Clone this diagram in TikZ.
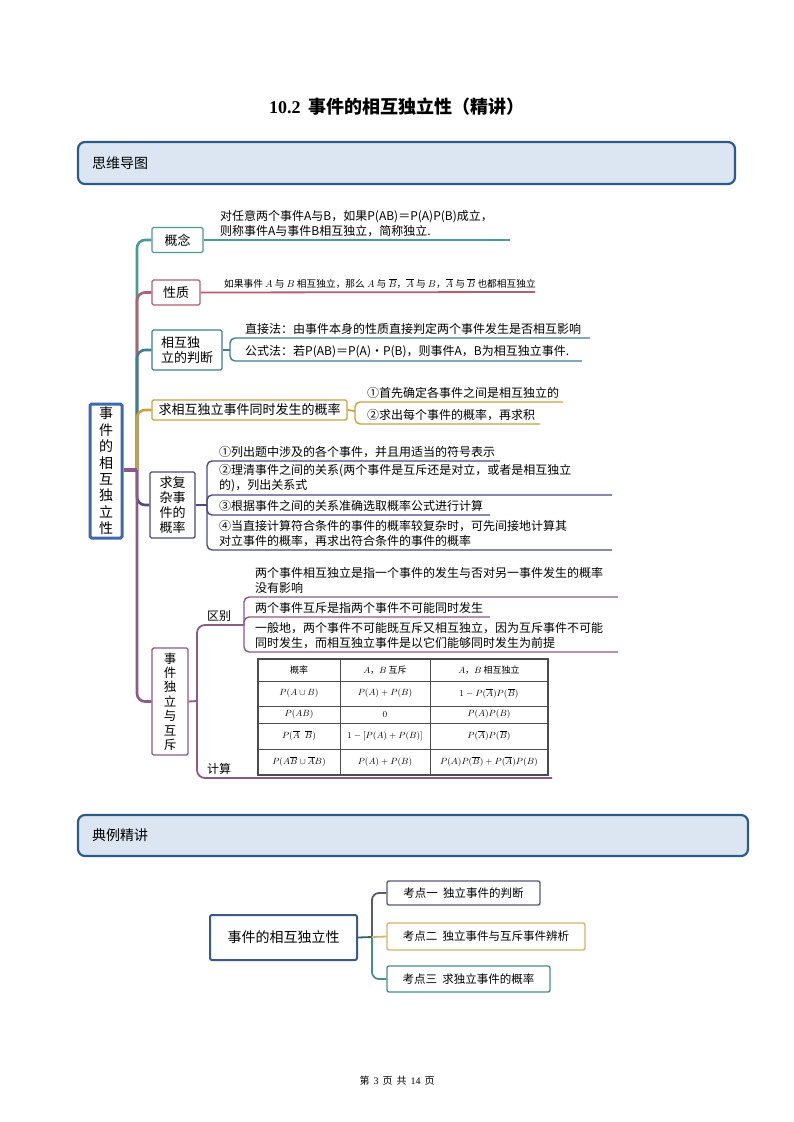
\documentclass[tikz,border=0pt]{standalone}
\usepackage{fontspec}
\setmainfont{Noto Sans CJK SC}
\newfontfamily\tnr{Liberation Serif}
\usetikzlibrary{calc}
\pgfdeclarelayer{bglayer}
\pgfsetlayers{bglayer,main}
\definecolor{cTeal}{HTML}{4A9A96}
\definecolor{cRed}{HTML}{B0606E}
\definecolor{cBT}{HTML}{3D7D95}
\definecolor{cGold}{HTML}{C9A23C}
\definecolor{cNavy}{HTML}{4B4C7E}
\definecolor{cPur}{HTML}{8B5A85}
\definecolor{cRoot}{HTML}{3F68B0}
\definecolor{barFill}{HTML}{DCE6F2}
\definecolor{barLine}{HTML}{2E5A88}
\definecolor{cDark}{HTML}{5A5A78}
\definecolor{cGold2}{HTML}{D4B466}
\definecolor{cTeal2}{HTML}{4A8C88}
\definecolor{cRoot2}{HTML}{3B5A8A}
\begin{document}
\begin{tikzpicture}[x=1pt,y=-1pt,
  bar/.style={draw=barLine,fill=barFill,line width=2.2,rounded corners=7,inner sep=0},
  bartxt/.style={anchor=west,inner sep=0,font=\fontsize{14}{16}\selectfont},
  box/.style={draw=#1,fill=white,line width=1.4,rounded corners=1.5,inner sep=0,font=\fontsize{13}{15.5}\selectfont,align=center},
  txt/.style={anchor=south west,inner sep=0,font=\fontsize{12}{15}\selectfont,align=left},
  br/.style={draw=#1,line width=2.6,rounded corners=8},
  ul/.style={draw=#1,line width=1.4,rounded corners=5},
  tc/.style={inner sep=0,font=\fontsize{9}{11}\selectfont},
  kbox/.style={draw=#1,fill=white,line width=1.4,rounded corners=2,inner sep=0,font=\fontsize{11.5}{14}\selectfont},
]
\begin{pgfonlayer}{bglayer}
\fill[white] (0,0) rectangle (794,1122);
\end{pgfonlayer}
\useasboundingbox (0,0) rectangle (794,1122);

% title
\node[inner sep=0,font=\fontsize{18}{20}\selectfont\bfseries] (title) at (397,107) {{\tnr 10.2}\ \ 事件的相互独立性（精讲）};

% header bars
\node[bar,minimum width=657,minimum height=42] (bar1) at (406.5,163) {};
\node[bartxt] (bar1t) at (92,163) {思维导图};
\node[bar,minimum width=670,minimum height=41] (bar2) at (413,835.5) {};
\node[bartxt] (bar2t) at (92,835.5) {典例精讲};

% root
\node[box=cRoot,line width=3,minimum width=32,minimum height=134,font=\fontsize{14}{16.4}\selectfont] (root) at (106,471) {事\\件\\的\\相\\互\\独\\立\\性};
\coordinate (J) at (137,470);

% first-level boxes
\node[box=cTeal,minimum width=51,minimum height=25] (gn) at (177.5,240) {概念};
\node[box=cRed,minimum width=48,minimum height=25] (xz) at (176,292.5) {性质};
\node[box=cBT,minimum width=70,minimum height=40,align=left] (pd) at (187,350) {相互独\\立的判断};
\node[box=cGold,minimum width=195,minimum height=20] (qx) at (249.5,410) {求相互独立事件同时发生的概率};
\node[box=cNavy,minimum width=45,minimum height=66,font=\fontsize{13}{15}\selectfont] (fz) at (172.5,505) {求复\\杂事\\件的\\概率};
\node[box=cPur,minimum width=36,minimum height=107,font=\fontsize{12.5}{14.4}\selectfont] (dl) at (170,701.5) {事\\件\\独\\立\\与\\互\\斥};

% trunk branches behind the boxes
\begin{pgfonlayer}{bglayer}
\draw[br=cTeal] (J) |- (gn.west);
\draw[br=cRed] (J) |- (xz.west);
\draw[br=cBT] (J) |- (pd.west);
\draw[br=cGold] (J) |- (qx.west);
\draw[br=cNavy] (J) |- (fz.west);
\draw[br=cPur] (J) |- (dl.west);
\draw[cPur,line width=4.5] (root.east |- J) -- (J);
\end{pgfonlayer}

% 概念
\coordinate (gnE) at (510,240);
\draw[ul=cTeal,line width=1.8] (gn.east) -- (gnE);
\node[txt] (gnt) at (220,237) {对任意两个事件A与B，如果P(AB)＝P(A)P(B)成立，\\则称事件A与事件B相互独立，简称独立.};

% 性质
\coordinate (xzE) at (535,292);
\draw[ul=cRed,line width=1.8] (xz.east) -- (xzE);
\node[txt,font=\fontsize{9.7}{11}\selectfont] (xzt) at (224,289) {如果事件 $A$ 与 $B$ 相互独立，那么 $A$ 与 $\overline{B}$，$\overline{A}$ 与 $B$，$\overline{A}$ 与 $\overline{B}$ 也都相互独立};

% 判断
\coordinate (pdB) at (230,350);
\coordinate (pd1) at (590,338);
\coordinate (pd2) at (582,361);
\draw[ul=cBT,line width=1.8] (pd.east) -- (pdB);
\draw[ul=cBT] (pdB) |- (pd1);
\draw[ul=cBT] (pdB) |- (pd2);
\node[txt] (pd1t) at (245,335) {直接法：由事件本身的性质直接判定两个事件发生是否相互影响};
\node[txt] (pd2t) at (245,358) {公式法：若P(AB)＝P(A)·P(B)，则事件A，B为相互独立事件.};

% 求相互独立
\coordinate (qxB) at (355,411);
\coordinate (qx1) at (563,402);
\coordinate (qx2) at (540,424);
\draw[ul=cGold,line width=1.8] (qx.east) -- (qxB);
\draw[ul=cGold] (qxB) |- (qx1);
\draw[ul=cGold] (qxB) |- (qx2);
\node[txt] (qx1t) at (367,399) {①首先确定各事件之间是相互独立的};
\node[txt] (qx2t) at (367,421) {②求出每个事件的概率，再求积};

% 复杂
\coordinate (fzB) at (207,505);
\coordinate (fz1) at (500,461);
\coordinate (fz2) at (612,495);
\coordinate (fz3) at (490,515);
\coordinate (fz4) at (612,550);
\draw[ul=cNavy,line width=1.8] (fz.east) -- (fzB);
\draw[ul=cNavy] (fzB) |- (fz1);
\draw[ul=cNavy] (fzB) |- (fz2);
\draw[ul=cNavy] (fzB) |- (fz3);
\draw[ul=cNavy] (fzB) |- (fz4);
\node[txt] (fz1t) at (219,458) {①列出题中涉及的各个事件，并且用适当的符号表示};
\node[txt] (fz2t) at (219,492) {②理清事件之间的关系(两个事件是互斥还是对立，或者是相互独立\\的)，列出关系式};
\node[txt] (fz3t) at (219,512) {③根据事件之间的关系准确选取概率公式进行计算};
\node[txt] (fz4t) at (219,547) {④当直接计算符合条件的事件的概率较复杂时，可先间接地计算其\\对立事件的概率，再求出符合条件的事件的概率};

% 事件独立与互斥
\coordinate (dlB) at (197,701);
\coordinate (qbB) at (244,625);
\coordinate (jsE) at (552,778);
\draw[ul=cPur,line width=1.8] (dl.east) -- (dlB);
\draw[ul=cPur,line width=1.8,rounded corners=8] (dlB) |- (qbB);
\draw[ul=cPur,line width=1.8,rounded corners=8] (dlB) |- (jsE);
\node[inner sep=0,font=\fontsize{12}{14}\selectfont,anchor=south west] (qb) at (207,622) {区别};
\node[inner sep=0,font=\fontsize{12}{14}\selectfont,anchor=south west] (js) at (207,775) {计算};
\coordinate (qb1) at (618,597);
\coordinate (qb2) at (490,617);
\coordinate (qb3) at (618,652);
\draw[ul=cPur] (qbB) |- (qb1);
\draw[ul=cPur] (qbB) |- (qb2);
\draw[ul=cPur] (qbB) |- (qb3);
\node[txt] (qb1t) at (255,594) {两个事件相互独立是指一个事件的发生与否对另一事件发生的概率\\没有影响};
\node[txt] (qb2t) at (255,614) {两个事件互斥是指两个事件不可能同时发生};
\node[txt] (qb3t) at (255,649) {一般地，两个事件不可能既互斥又相互独立，因为互斥事件不可能\\同时发生，而相互独立事件是以它们能够同时发生为前提};

% table
\begin{scope}[draw=black!70,line width=0.8]
\draw[line width=1.2] (258,659) rectangle (548,775);
\foreach \yy in {681,706,723,749} \draw (258,\yy) -- (548,\yy);
\foreach \xx in {340,430} \draw (\xx,659) -- (\xx,775);
\end{scope}
\node[tc] (h1) at (299,670) {概率};
\node[tc] (h2) at (385,670) {$A$，$B$ 互斥};
\node[tc] (h3) at (489,670) {$A$，$B$ 相互独立};
\node[tc] (a1) at (299,693.5) {$P(A\cup B)$};
\node[tc] (a2) at (385,693.5) {$P(A)+P(B)$};
\node[tc] (a3) at (489,693.5) {$1-P(\overline{A})P(\overline{B})$};
\node[tc] (b1) at (299,714.5) {$P(AB)$};
\node[tc] (b2) at (385,714.5) {$0$};
\node[tc] (b3) at (489,714.5) {$P(A)P(B)$};
\node[tc] (c1) at (299,736) {$P(\overline{A}\;\;\overline{B})$};
\node[tc] (c2) at (385,736) {$1-[P(A)+P(B)]$};
\node[tc] (c3) at (489,736) {$P(\overline{A})P(\overline{B})$};
\node[tc] (d1) at (299,762) {$P(A\overline{B}\cup\overline{A}B)$};
\node[tc] (d2) at (385,762) {$P(A)+P(B)$};
\node[tc] (d3) at (489,762) {$P(A)P(\overline{B})+P(\overline{A})P(B)$};

% bottom mind map
\node[kbox=cRoot2,line width=2,minimum width=147,minimum height=45,font=\fontsize{14}{16}\selectfont] (r2) at (283.5,937.5) {事件的相互独立性};
\node[kbox=cDark,minimum width=153,minimum height=24] (k1) at (463.5,893) {考点一\ \ 独立事件的判断};
\node[kbox=cGold2,minimum width=198,minimum height=27] (k2) at (486,936.5) {考点二\ \ 独立事件与互斥事件辨析};
\node[kbox=cTeal2,minimum width=163,minimum height=26] (k3) at (468.5,979) {考点三\ \ 求独立事件的概率};
\coordinate (K) at (372,937);
\draw[cTeal2!70!black,line width=1.8] (r2.east) -- (K);
\draw[cDark,line width=1.8,rounded corners=7] (K) |- (k1.west);
\draw[cTeal2,line width=1.8,rounded corners=7] (K) |- (k3.west);
\draw[cGold2,line width=1.8] (K) -- (k2.west);

% footer
\node[inner sep=0,font=\fontsize{10}{12}\selectfont] (foot) at (397,1081) {第\hspace{4pt}{\tnr 3}\hspace{4pt}页\hspace{4pt}共\hspace{4pt}{\tnr 14}\hspace{4pt}页};
\end{tikzpicture}
\end{document}
